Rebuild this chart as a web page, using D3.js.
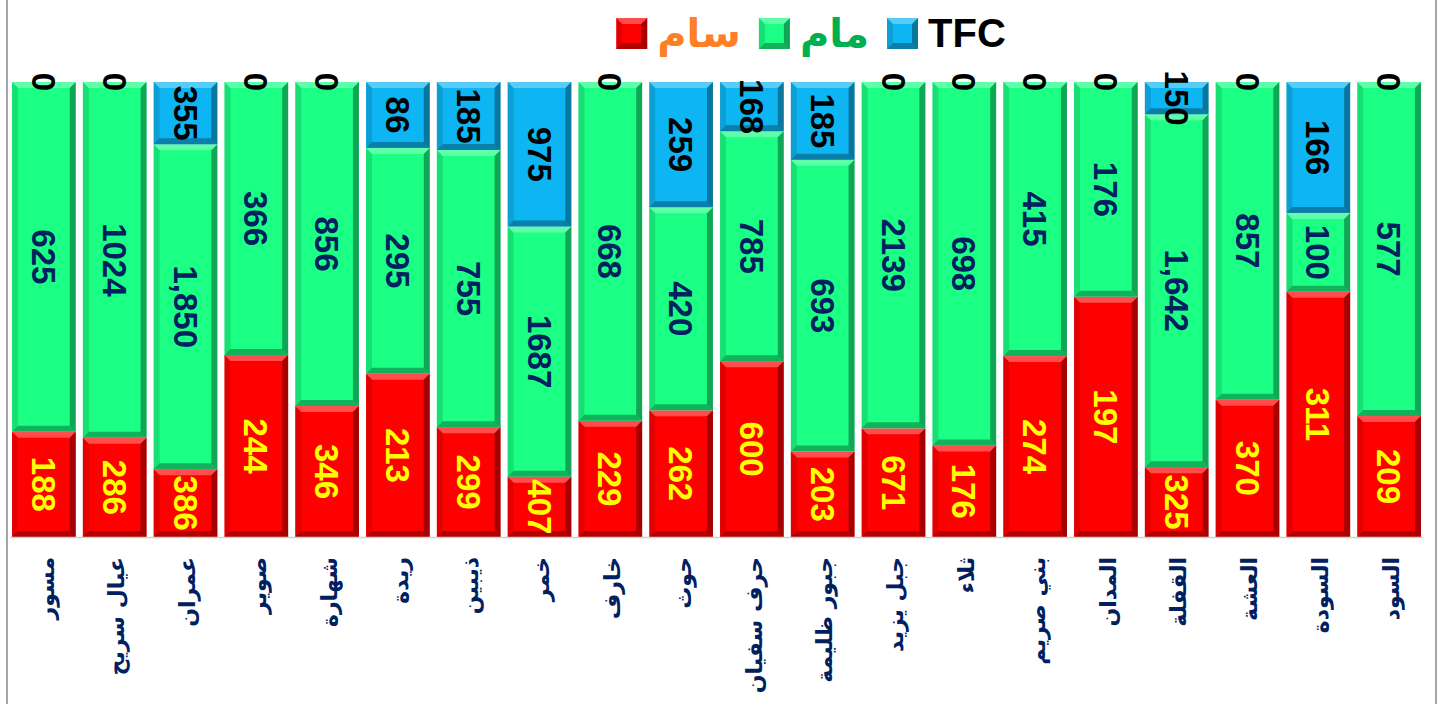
<!doctype html>
<html>
<head>
    <meta charset="utf-8">
    <script src="https://d3js.org/d3.v7.min.js"></script>
    <style>
        body { margin: 0; background: #fff; }
        svg text.val {
            font: bold 33px "Liberation Sans", Arial, sans-serif;
            text-anchor: middle;
        }
        svg text.cat {
            font: bold 22px "DejaVu Sans", sans-serif;
            fill: #002060;
        }
        svg text.leg {
            font: bold 40px "DejaVu Sans", sans-serif;
        }
    </style>
</head>
<body>

<script>
    let categories = ["مسور", "عيال سريح", "عمران", "صوير", "شهارة", "ريدة", "ذيبين", "خمر", "خارف", "حوث",
                      "حرف سفيان", "جبور ظليمة", "جبل يزيد", "ثلاء", "بني صريم", "المدان", "القفلة", "العشة", "السودة", "السود"];
    let samValues = [188, 286, 386, 244, 346, 213, 299, 407, 229, 262, 600, 203, 671, 176, 274, 197, 325, 370, 311, 209];
    let mamValues = [625, 1024, 1850, 366, 856, 295, 755, 1687, 668, 420, 785, 693, 2139, 698, 415, 176, 1642, 857, 100, 577];
    let tfcValues = [0, 0, 355, 0, 0, 86, 185, 975, 0, 259, 168, 185, 0, 0, 0, 0, 150, 0, 166, 0];
    // these two labels show a thousands separator in the original
    let commaCats = ["عمران", "القفلة"];

    let seriesNames = ["سام", "مام", "TFC"];
    let seriesColors = ["#ff0000", "#1aff84", "#0db6f2"];
    let labelColors = ["#ffff00", "#002060", "#000000"];
    let legendTextColors = ["#ff7f27", "#00b050", "#000000"];

    let width = 1442, height = 704;

    let rows = categories.map((c, i) => ({cat: c, "سام": samValues[i], "مام": mamValues[i], "TFC": tfcValues[i]}));
    let stacked = d3.stack().keys(seriesNames).offset(d3.stackOffsetExpand)(rows);

    let x = d3.scaleBand()
              .domain(categories)
              .range([8.5, 1424.5])
              .paddingInner(0.1)
              .paddingOuter(0.05);

    let y = d3.scaleLinear()
              .domain([0, 1])
              .range([537, 82]);

    let svg = d3.select("body")
                .append("svg")
                .attr("width", width)
                .attr("height", height);

    // frame of the chart area
    svg.append("line").attr("x1", 7).attr("x2", 7).attr("y1", 0).attr("y2", height)
       .attr("stroke", "#a6a6a6").attr("stroke-width", 2);
    svg.append("line").attr("x1", 1436).attr("x2", 1436).attr("y1", 0).attr("y2", height)
       .attr("stroke", "#a6a6a6").attr("stroke-width", 2);

    // draws a rect with a simple bevel look
    function bevelRect(g, bx, by, bw, bh, color) {
        if (bh <= 0) return;
        let b = Math.min(6, bh / 2, bw / 2);
        g.append("rect").attr("x", bx).attr("y", by).attr("width", bw).attr("height", bh).attr("fill", color);
        let pts = [
            [[bx, by], [bx + bw, by], [bx + bw - b, by + b], [bx + b, by + b], "#fff", 0.3],
            [[bx, by + bh], [bx + bw, by + bh], [bx + bw - b, by + bh - b], [bx + b, by + bh - b], "#000", 0.3],
            [[bx, by], [bx + b, by + b], [bx + b, by + bh - b], [bx, by + bh], "#000", 0.12],
            [[bx + bw, by], [bx + bw - b, by + b], [bx + bw - b, by + bh - b], [bx + bw, by + bh], "#000", 0.35]
        ];
        pts.forEach(p => {
            g.append("polygon")
             .attr("points", p.slice(0, 4).map(q => q.join(",")).join(" "))
             .attr("fill", p[4]).attr("fill-opacity", p[5]);
        });
    }

    let layers = svg.selectAll("g.layer")
                    .data(stacked)
                    .enter()
                    .append("g")
                    .attr("class", "layer");

    layers.each(function(layer) {
        let g = d3.select(this);
        layer.forEach(d => {
            let top = y(d[1]), bot = y(d[0]);
            bevelRect(g, x(d.data.cat), top, x.bandwidth(), bot - top, seriesColors[layer.index]);
        });
    });

    // axis line
    svg.append("line").attr("x1", 10).attr("x2", 1423).attr("y1", 537.5).attr("y2", 537.5)
       .attr("stroke", "#d0d0d0").attr("stroke-width", 1.5);

    // value labels (rotated clockwise)
    layers.each(function(layer) {
        let g = d3.select(this);
        g.selectAll("text.val")
         .data(layer)
         .enter()
         .append("text")
         .attr("class", "val")
         .attr("fill", labelColors[layer.index])
         .attr("transform", d => "translate(" + (x(d.data.cat) + x.bandwidth() / 2) + "," + ((y(d[0]) + y(d[1])) / 2) + ") rotate(90)")
         .attr("dy", ".36em")
         .text(d => {
             let v = d.data[layer.key];
             return (layer.key === "مام" && commaCats.includes(d.data.cat)) ? d3.format(",")(v) : v;
         });
    });

    // category labels (rotated counter-clockwise, Arabic start at the top)
    svg.selectAll("text.cat")
       .data(categories)
       .enter()
       .append("text")
       .attr("class", "cat")
       .attr("text-anchor", "end")
       .attr("transform", d => "translate(" + (x(d) + x.bandwidth() / 2 + 2) + ",557) rotate(-90)")
       .attr("dy", ".35em")
       .text(d => d);

    // legend: red, green, blue from left to right
    let legend = svg.append("g");
    let lx = 0;
    seriesNames.forEach((name, i) => {
        bevelRect(legend, lx, 18, 31, 31, seriesColors[i]);
        lx += 31 + 10;
        let t = legend.append("text")
                      .attr("class", "leg")
                      .attr("x", lx)
                      .attr("y", 33)
                      .attr("dy", ".35em")
                      .attr("fill", legendTextColors[i])
                      .style("font-family", name === "TFC" ? "'Liberation Sans', Arial, sans-serif" : null)
                      .text(name);
        lx += t.node().getComputedTextLength() + 18;
    });
    legend.attr("transform", "translate(" + (811 - (lx - 18) / 2) + ",0)");
</script>
</body>
</html>
